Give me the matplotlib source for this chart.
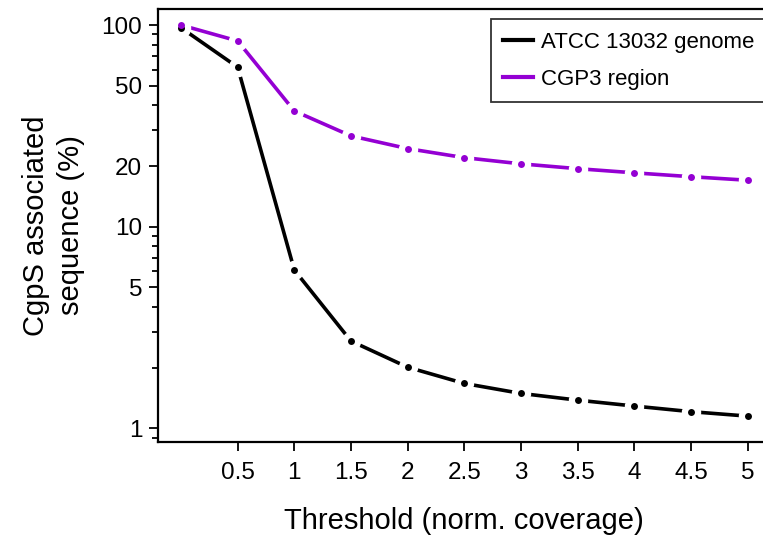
import numpy as np
import matplotlib
matplotlib.use("Agg")
import matplotlib.pyplot as plt
from matplotlib.ticker import FixedLocator, NullFormatter

plt.rcParams['font.family'] = ['Liberation Sans', 'DejaVu Sans']

# values (log scale)
threshold = [0, 0.5, 1, 1.5, 2, 2.5, 3, 3.5, 4, 4.5, 5]
genome = [97, 61.8, 6.1, 2.71, 2.01, 1.67, 1.49, 1.38, 1.29, 1.21, 1.15]
cgp3 = [100, 83.4, 37.5, 28.2, 24.4, 22.0, 20.5, 19.4, 18.5, 17.7, 17.0]
series_names = ['ATCC 13032 genome', 'CGP3 region']
series_colors = ['black', '#9400D3']

x_ticks = [0.5, 1, 1.5, 2, 2.5, 3, 3.5, 4, 4.5, 5]
x_ticklabels = ['0.5', '1', '1.5', '2', '2.5', '3', '3.5', '4', '4.5', '5']
y_major = [1, 5, 10, 20, 50, 100]
y_minor = [0.9, 2, 3, 4, 6, 7, 8, 9, 30, 40, 60, 70, 80, 90]

fig = plt.figure(figsize=(7.63, 5.42), dpi=100)
ax = fig.add_axes([0.2075, 0.184, 0.802, 0.8003])

# R style type="b": lines with gaps around the points
for ys, col, name in zip([genome, cgp3], series_colors, series_names):
    ax.plot(threshold, ys, color=col, lw=2.6, label=name, zorder=2)
for ys, col in zip([genome, cgp3], series_colors):
    ax.plot(threshold, ys, ls='none', marker='o', ms=14, mfc='white',
            mec='none', zorder=3)
for ys, col in zip([genome, cgp3], series_colors):
    ax.plot(threshold, ys, ls='none', marker='o', ms=5, mfc=col,
            mec='none', zorder=4)

ax.set_yscale('log')
ax.set_xlim(-0.2, 5.2)
ax.set_ylim(0.853, 120.8)

ax.set_xticks(x_ticks)
ax.set_xticklabels(x_ticklabels)
ax.yaxis.set_major_locator(FixedLocator(y_major))
ax.yaxis.set_minor_locator(FixedLocator(y_minor))
ax.set_yticklabels([str(v) for v in y_major])
ax.yaxis.set_minor_formatter(NullFormatter())
ax.xaxis.set_minor_locator(FixedLocator([]))

ax.tick_params(axis='both', which='major', direction='out', length=6.5,
               width=1.3, labelsize=17.5)
ax.tick_params(axis='x', which='major', pad=8)
ax.tick_params(axis='y', which='major', pad=5)
ax.tick_params(axis='y', which='minor', direction='out', length=4, width=1.3)
for sp in ax.spines.values():
    sp.set_linewidth(1.6)

ax.set_xlabel('Threshold (norm. coverage)', fontsize=21, labelpad=16)
ax.set_ylabel('CgpS associated\nsequence (%)', fontsize=21, labelpad=12,
              linespacing=1.3)

leg = ax.legend(loc='upper right', bbox_to_anchor=(0.9935, 0.975), fontsize=16,
                frameon=True, fancybox=False, handlelength=1.35,
                handletextpad=0.35, borderpad=0.55, labelspacing=0.75,
                borderaxespad=0)
leg.get_frame().set_edgecolor('black')
leg.get_frame().set_linewidth(1.3)
for h in leg.get_lines():
    h.set_linewidth(3)

fig.savefig('out.png', dpi=100)
